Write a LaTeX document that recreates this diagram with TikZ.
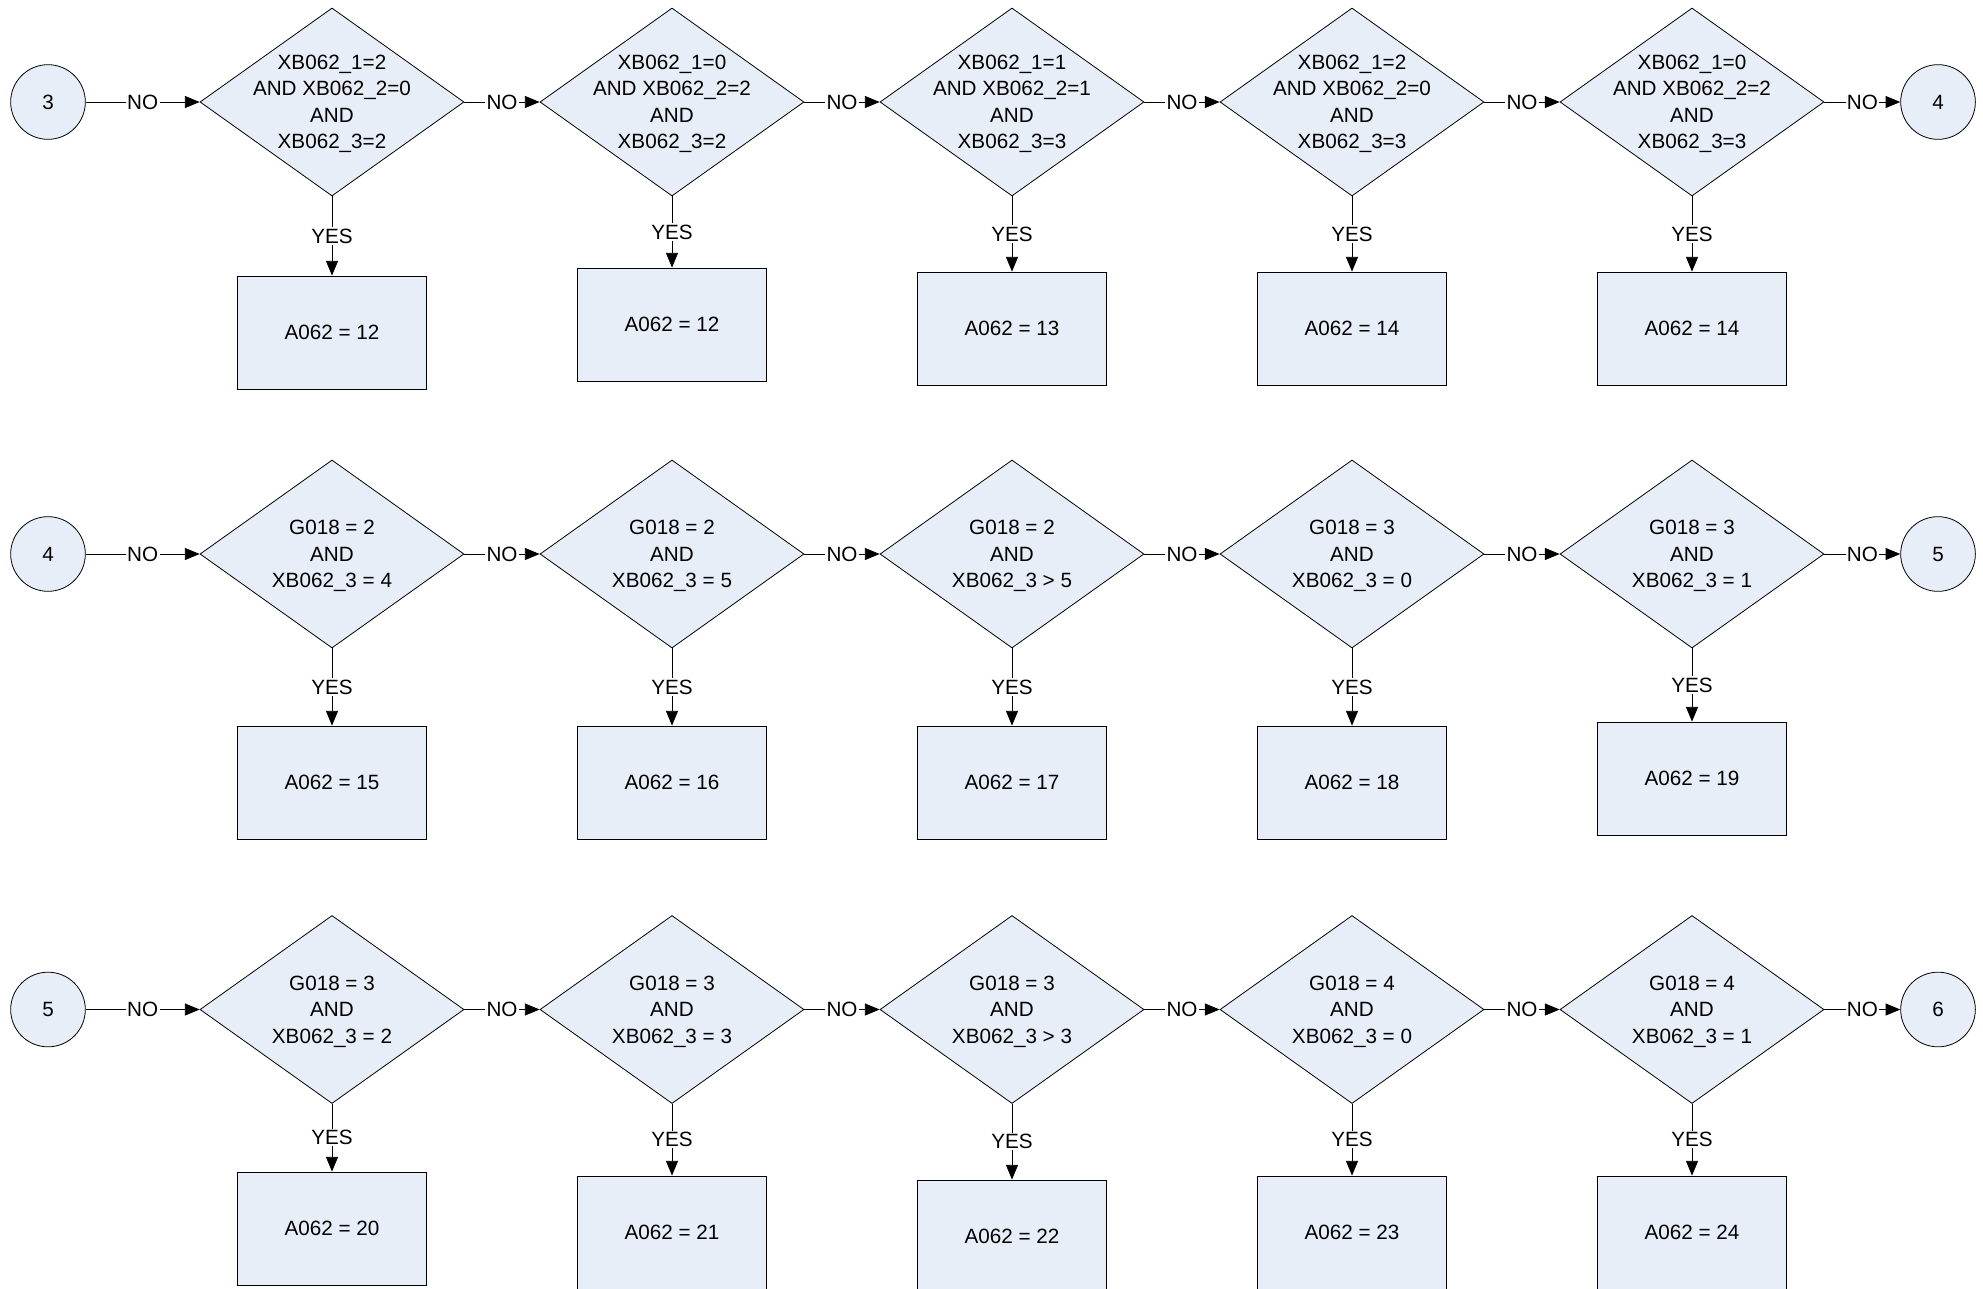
\documentclass[tikz,border=0pt]{standalone}
\usepackage{fontspec}
\setmainfont{Liberation Sans}
\usetikzlibrary{shapes.geometric,arrows.meta}
\definecolor{shapefill}{RGB}{232,238,247}
\begin{document}
\begin{tikzpicture}[x=0.75pt,y=-0.75pt,
  txt/.style={font=\fontsize{15.5}{19.3}\selectfont},
  dia/.style={diamond, draw=black, fill=shapefill, line width=0.6pt, minimum width=198pt, minimum height=141pt, inner sep=0pt},
  dtext/.style={font=\fontsize{15.5}{19.8}\selectfont, align=center, inner sep=0pt, yshift=-1.5pt},
  box/.style={rectangle, draw=black, fill=shapefill, minimum width=141.75pt, minimum height=84.75pt, txt, line width=0.6pt},
  conn/.style={circle, draw=black, fill=shapefill, minimum size=56pt, inner sep=0pt, txt, line width=0.6pt},
  arr/.style={-{Triangle[length=11pt,width=9pt]}, line width=0.6pt},
  lbl/.style={txt, fill=white, inner sep=1pt}]
\useasboundingbox (0,0) rectangle (1983,1288);

% ---------- Row 1 ----------
\node[conn] (cl1) at (48,102) {3};
\node[conn] (cr1) at (1938,102) {4};
\node[dia, label={[dtext]center:{XB062\_1=2\\AND XB062\_2=0\\AND\\XB062\_3=2}}] (d11) at (332,102) {};
\node[dia, label={[dtext]center:{XB062\_1=0\\AND XB062\_2=2\\AND\\XB062\_3=2}}] (d12) at (672,102) {};
\node[dia, label={[dtext]center:{XB062\_1=1\\AND XB062\_2=1\\AND\\XB062\_3=3}}] (d13) at (1012,102) {};
\node[dia, label={[dtext]center:{XB062\_1=2\\AND XB062\_2=0\\AND\\XB062\_3=3}}] (d14) at (1352,102) {};
\node[dia, label={[dtext]center:{XB062\_1=0\\AND XB062\_2=2\\AND\\XB062\_3=3}}] (d15) at (1692,102) {};
\node[box] (b11) at (332,332.5) {A062 = 12};
\node[box] (b12) at (672,324.5) {A062 = 12};
\node[box] (b13) at (1012,328.5) {A062 = 13};
\node[box] (b14) at (1352,328.5) {A062 = 14};
\node[box] (b15) at (1692,328.5) {A062 = 14};

% ---------- Row 2 ----------
\node[conn] (cl2) at (48,554) {4};
\node[conn] (cr2) at (1938,554) {5};
\node[dia, label={[dtext]center:{G018 = 2\\AND\\XB062\_3 = 4}}] (d21) at (332,554) {};
\node[dia, label={[dtext]center:{G018 = 2\\AND\\XB062\_3 = 5}}] (d22) at (672,554) {};
\node[dia, label={[dtext]center:{G018 = 2\\AND\\XB062\_3 > 5}}] (d23) at (1012,554) {};
\node[dia, label={[dtext]center:{G018 = 3\\AND\\XB062\_3 = 0}}] (d24) at (1352,554) {};
\node[dia, label={[dtext]center:{G018 = 3\\AND\\XB062\_3 = 1}}] (d25) at (1692,554) {};
\node[box] (b21) at (332,782.5) {A062 = 15};
\node[box] (b22) at (672,782.5) {A062 = 16};
\node[box] (b23) at (1012,782.5) {A062 = 17};
\node[box] (b24) at (1352,782.5) {A062 = 18};
\node[box] (b25) at (1692,778.5) {A062 = 19};

% ---------- Row 3 ----------
\node[conn] (cl3) at (48,1009.5) {5};
\node[conn] (cr3) at (1938,1009.5) {6};
\node[dia, label={[dtext]center:{G018 = 3\\AND\\XB062\_3 = 2}}] (d31) at (332,1009.5) {};
\node[dia, label={[dtext]center:{G018 = 3\\AND\\XB062\_3 = 3}}] (d32) at (672,1009.5) {};
\node[dia, label={[dtext]center:{G018 = 3\\AND\\XB062\_3 > 3}}] (d33) at (1012,1009.5) {};
\node[dia, label={[dtext]center:{G018 = 4\\AND\\XB062\_3 = 0}}] (d34) at (1352,1009.5) {};
\node[dia, label={[dtext]center:{G018 = 4\\AND\\XB062\_3 = 1}}] (d35) at (1692,1009.5) {};
\node[box] (b31) at (332,1228.5) {A062 = 20};
\node[box] (b32) at (672,1232.5) {A062 = 21};
\node[box] (b33) at (1012,1236.5) {A062 = 22};
\node[box] (b34) at (1352,1232.5) {A062 = 23};
\node[box] (b35) at (1692,1232.5) {A062 = 24};

% ---------- Connectors ----------
\foreach \r in {1,2,3}{
  \draw[arr] (cl\r) -- node[lbl]{NO} (d\r1);
  \draw[arr] (d\r1) -- node[lbl]{NO} (d\r2);
  \draw[arr] (d\r2) -- node[lbl]{NO} (d\r3);
  \draw[arr] (d\r3) -- node[lbl]{NO} (d\r4);
  \draw[arr] (d\r4) -- node[lbl]{NO} (d\r5);
  \draw[arr] (d\r5) -- node[lbl]{NO} (cr\r);
  \foreach \c in {1,...,5}{
    \draw[arr] (d\r\c) -- node[lbl]{YES} (b\r\c);
  }
}
\end{tikzpicture}
\end{document}
